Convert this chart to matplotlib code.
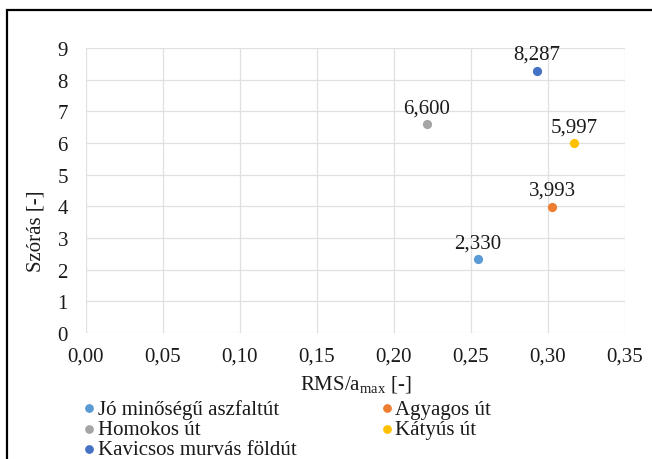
import matplotlib
matplotlib.use("Agg")
import matplotlib.pyplot as plt
from matplotlib.patches import Rectangle
from matplotlib.ticker import FixedLocator

plt.rcParams['font.family'] = ['Liberation Serif', 'DejaVu Serif']
plt.rcParams['mathtext.fontset'] = 'custom'
plt.rcParams['mathtext.rm'] = 'Liberation Serif'
plt.rcParams['mathtext.it'] = 'Liberation Serif:italic'

# Road surface categories and measured values
categories = ["Jó minőségű aszfaltút", "Agyagos út", "Homokos út",
              "Kátyús út", "Kavicsos murvás földút"]
rms_ratio = [0.2546, 0.3026, 0.2214, 0.3169, 0.2929]
std_dev = [2.330, 3.993, 6.600, 5.997, 8.287]
colors = ["#5B9BD5", "#ED7D31", "#A5A5A5", "#FFC000", "#4472C4"]

x_ticks = [0.00, 0.05, 0.10, 0.15, 0.20, 0.25, 0.30, 0.35]
y_ticks = [0, 1, 2, 3, 4, 5, 6, 7, 8, 9]

TEXT = "#1A1A1A"

fig = plt.figure(figsize=(6.52, 4.60), dpi=100)
ax = fig.add_axes([86/652, 1-334/460, (625-86)/652, (334-49)/460])

handles = {}
for name, x, y, c in zip(categories, rms_ratio, std_dev, colors):
    h = ax.scatter([x], [y], s=44, color=c, zorder=3, linewidths=0, label=name)
    handles[name] = h
    ax.annotate(f"{y:.3f}".replace(".", ","), (x, y), xytext=(0, 5),
                textcoords="offset points", ha="center", va="bottom",
                fontsize=15, color=TEXT)

ax.set_xlim(0, 0.35)
ax.set_ylim(0, 9)
ax.xaxis.set_major_locator(FixedLocator(x_ticks))
ax.yaxis.set_major_locator(FixedLocator(y_ticks))
ax.set_xticklabels([f"{v:.2f}".replace(".", ",") for v in x_ticks])
ax.set_yticklabels([str(v) for v in y_ticks])
ax.tick_params(length=0, labelsize=15, colors=TEXT)
ax.tick_params(axis="x", pad=10)
ax.tick_params(axis="y", pad=13)
ax.grid(True, color="#E0E0E0", linewidth=0.9)
ax.set_axisbelow(True)
for s in ax.spines.values():
    s.set_visible(False)

ax.set_xlabel(r"RMS/a$_{\mathregular{max}}$ [-]", fontsize=15, color=TEXT,
              labelpad=5)
ax.set_ylabel("Szórás [-]", fontsize=15, color=TEXT, va="center")
ax.yaxis.set_label_coords((36 - 86) / 539, (334 - 231) / 285)

# Row-major order for a two-column legend
order = ["Jó minőségű aszfaltút", "Homokos út", "Kavicsos murvás földút",
         "Agyagos út", "Kátyús út"]
leg = fig.legend([handles[n] for n in order], order, ncol=2,
                 loc="upper left", bbox_to_anchor=(84/652, 1-400/460),
                 frameon=False, fontsize=15, handlelength=0.5,
                 handletextpad=0.15, columnspacing=4.1, labelspacing=0.03,
                 borderpad=0, borderaxespad=0, markerscale=0.95)
for t in leg.get_texts():
    t.set_color(TEXT)

# Outer chart frame
fig.patches.append(Rectangle((7/652, -0.05), 1.2, 1-11/460+0.05,
                             transform=fig.transFigure, fill=False,
                             edgecolor="black", linewidth=1.6))

fig.savefig("out.png", dpi=100)
